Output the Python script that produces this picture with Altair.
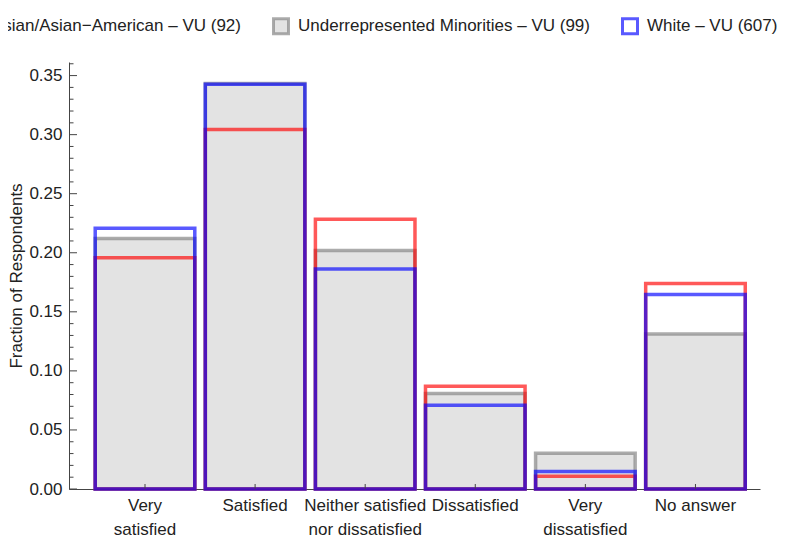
import altair as alt
import pandas as pd

categories = ["Very satisfied", "Satisfied", "Neither satisfied nor dissatisfied",
              "Dissatisfied", "Very dissatisfied", "No answer"]
category_labels = ["Very|satisfied", "Satisfied", "Neither satisfied|nor dissatisfied",
                   "Dissatisfied", "Very|dissatisfied", "No answer"]
series_names = ["Asian/Asian\u2212American \u2013 VU (92)",
                "Underrepresented Minorities \u2013 VU (99)",
                "White \u2013 VU (607)"]
asian = [0.1957, 0.3043, 0.2283, 0.0870, 0.0109, 0.1739]
urm = [0.2121, 0.3434, 0.2020, 0.0808, 0.0303, 0.1313]
white = [0.2208, 0.3427, 0.1862, 0.0708, 0.0148, 0.1647]
y_major = [0.0, 0.05, 0.10, 0.15, 0.20, 0.25, 0.30, 0.35]
y_minor = [0.01, 0.02, 0.03, 0.04, 0.06, 0.07, 0.08, 0.09, 0.11, 0.12, 0.13, 0.14,
           0.16, 0.17, 0.18, 0.19, 0.21, 0.22, 0.23, 0.24, 0.26, 0.27, 0.28, 0.29,
           0.31, 0.32, 0.33, 0.34, 0.36]

stroke_colors = ["rgba(255,0,0,0.65)", "rgba(128,128,128,0.65)", "rgba(0,0,255,0.65)"]
fill_colors = ["rgba(255,255,255,0)", "#e3e3e3", "rgba(255,255,255,0)"]

rows = []
# draw order: gray first, then red, then blue
for sname, vals in [(series_names[1], urm), (series_names[0], asian), (series_names[2], white)]:
    for lab, v in zip(category_labels, vals):
        rows.append({"cat": lab, "series": sname, "value": v})
df = pd.DataFrame(rows)

W, H = 691, 427
FONT = "Liberation Sans"

xscale = alt.Scale(domain=category_labels, paddingInner=0.0955, paddingOuter=0.186, align=0.64)
yscale = alt.Scale(domain=[0, 0.3615], nice=False, zero=True)

legend = alt.Legend(
    title=None, orient="none", legendX=-103, legendY=-45, direction="horizontal",
    columns=3, symbolType="square", symbolSize=225, symbolStrokeWidth=3,
    labelFontSize=17, labelFont=FONT, labelColor="#222", labelOffset=8,
    columnPadding=26, labelLimit=0, padding=0,
)

xaxis = alt.Axis(
    title=None, labelExpr="split(datum.label, '|')", labelAngle=0,
    ticks=False, tickSize=0, labelPadding=8, labelFontSize=17, labelFont=FONT,
    labelColor="#222", labelLineHeight=24, labelBaseline="top", labelAlign="center",
    labelOverlap=False, domainColor="#444", domainWidth=1, grid=False)
yaxis = alt.Axis(
    values=y_major, format=".2f", ticks=False, tickSize=0, labelPadding=7,
    grid=False, labelFontSize=17, labelFont=FONT, labelColor="#222",
    labelOverlap=False, domainColor="#444", domainWidth=1,
    title="Fraction of Respondents", titleX=-48, titleY=H / 2, titleAngle=270,
    titleBaseline="alphabetic", titleAlign="center", titleFontSize=17,
    titleFont=FONT, titleFontWeight="normal", titleColor="#222")

bars = alt.Chart(df).mark_bar(strokeWidth=3.5).encode(
    x=alt.X("cat:N", scale=xscale, axis=xaxis),
    y=alt.Y("value:Q", scale=yscale, stack=None, axis=yaxis),
    stroke=alt.Stroke("series:N", scale=alt.Scale(domain=series_names, range=stroke_colors), legend=legend),
    fill=alt.Fill("series:N", scale=alt.Scale(domain=series_names, range=fill_colors), legend=legend),
)

ymaj = alt.Chart(pd.DataFrame({"value": y_major})).mark_rule(color="#444", strokeWidth=1).encode(
    y=alt.Y("value:Q", axis=yaxis), x=alt.value(0), x2=alt.value(8))
ymin = alt.Chart(pd.DataFrame({"value": y_minor})).mark_rule(color="#444", strokeWidth=1).encode(
    y=alt.Y("value:Q", axis=yaxis), x=alt.value(0), x2=alt.value(4.5))
xt = alt.Chart(pd.DataFrame({"cat": category_labels})).mark_rule(color="#444", strokeWidth=1).encode(
    x=alt.X("cat:N", axis=xaxis), y=alt.value(H), y2=alt.value(H - 5))

chart = alt.layer(bars, ymaj, ymin, xt).properties(
    width=W, height=H,
    autosize=alt.AutoSizeParams(type="none"),
    padding={"left": 61, "top": 54, "right": 17, "bottom": 58},
).configure(font=FONT).configure_view(stroke=None)

chart.save("out.html", embed_options={"renderer": "svg", "actions": False})
